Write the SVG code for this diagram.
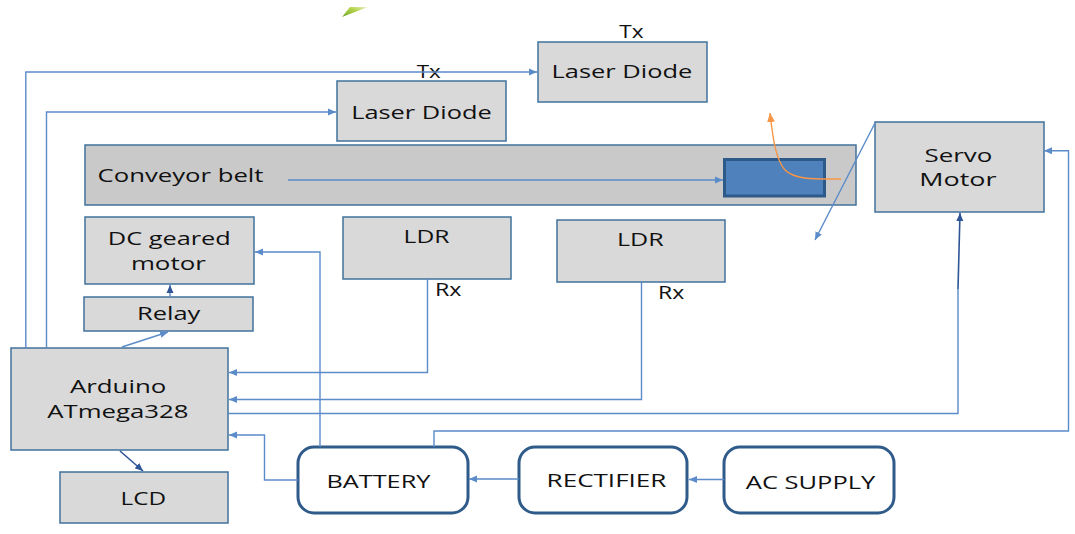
<svg xmlns="http://www.w3.org/2000/svg" width="1075" height="534" viewBox="0 0 1075 534">
<defs>
<style>
.box{fill:#d9d9d9;stroke:#41719c;stroke-width:1.5}
.rbox{fill:#ffffff;stroke:#2f5b8a;stroke-width:3}
.t{font-family:"Open Sans","Noto Sans","Liberation Sans",sans-serif;font-size:19px;fill:#111111}
.s{font-family:"Open Sans","Noto Sans","Liberation Sans",sans-serif;font-size:18px;fill:#111111}
.c{fill:none;stroke:#5b8bc9;stroke-width:1.4}
.cd{fill:none;stroke:#2f5597;stroke-width:1.6}
.co{fill:none;stroke:#f79646;stroke-width:1.4}
</style>
<marker id="ah" viewBox="0 0 8 8" refX="8" refY="4" markerWidth="8" markerHeight="8" markerUnits="userSpaceOnUse" orient="auto"><path d="M0,0.5 L8,4 L0,7.5 z" fill="#5b8bc9"/></marker>
<marker id="ahd" viewBox="0 0 8 8" refX="8" refY="4" markerWidth="8" markerHeight="8" markerUnits="userSpaceOnUse" orient="auto"><path d="M0,0.5 L8,4 L0,7.5 z" fill="#2f5597"/></marker>
<marker id="aho" viewBox="0 0 8 8" refX="8" refY="4" markerWidth="9" markerHeight="9" markerUnits="userSpaceOnUse" orient="auto"><path d="M0,0.5 L8,4 L0,7.5 z" fill="#f79646"/></marker>
<linearGradient id="gr" x1="0" y1="1" x2="1" y2="0"><stop offset="0" stop-color="#6fa82a"/><stop offset="0.6" stop-color="#b5d34a"/><stop offset="1" stop-color="#eef5d8"/></linearGradient>
</defs>
<rect width="1075" height="534" fill="#ffffff"/>
<polygon points="350,7 368,7 342,17" fill="url(#gr)"/>

<g id="conveyor"><rect class="box" x="85" y="145" width="771" height="60" style="fill:#c9c9c9"/><text class="t" x="97.5" y="181.7" textLength="166" lengthAdjust="spacingAndGlyphs">Conveyor belt</text>
<rect x="724.5" y="159.5" width="100" height="36.5" fill="#4f81bd" stroke="#2e5a8a" stroke-width="3"/></g>
<g id="laser2"><rect class="box" x="538" y="42" width="169" height="60"/><text class="t" x="551.5" y="78.3" textLength="140.8" lengthAdjust="spacingAndGlyphs">Laser Diode</text><text class="s" x="619.3" y="38.3" textLength="24.3" lengthAdjust="spacingAndGlyphs">Tx</text></g>
<g id="laser1"><rect class="box" x="337" y="81" width="169" height="60"/><text class="t" x="351.2" y="119" textLength="140.5" lengthAdjust="spacingAndGlyphs">Laser Diode</text><text class="s" x="416.7" y="78" textLength="24.1" lengthAdjust="spacingAndGlyphs">Tx</text></g>
<g id="servo"><rect class="box" x="875" y="122" width="169" height="90"/><text class="t" x="924.5" y="161.7" textLength="67.8" lengthAdjust="spacingAndGlyphs">Servo</text><text class="t" x="919.3" y="186" textLength="77.2" lengthAdjust="spacingAndGlyphs">Motor</text></g>
<g id="dcmotor"><rect class="box" x="85" y="217" width="169" height="67"/><text class="t" x="107.8" y="245" textLength="123" lengthAdjust="spacingAndGlyphs">DC geared</text><text class="t" x="130.9" y="270" textLength="75" lengthAdjust="spacingAndGlyphs">motor</text></g>
<g id="relay"><rect class="box" x="84" y="297" width="169" height="34"/><text class="t" x="137" y="320" textLength="63.4" lengthAdjust="spacingAndGlyphs">Relay</text></g>
<g id="arduino"><rect class="box" x="11" y="348" width="217" height="102"/><text class="t" x="69.9" y="393.3" textLength="96.4" lengthAdjust="spacingAndGlyphs">Arduino</text><text class="t" x="47.2" y="417.7" textLength="141.2" lengthAdjust="spacingAndGlyphs">ATmega328</text></g>
<g id="lcd"><rect class="box" x="60" y="472" width="168" height="51"/><text class="t" x="120.5" y="505" textLength="45.5" lengthAdjust="spacingAndGlyphs">LCD</text></g>
<g id="ldr1"><rect class="box" x="343" y="217" width="168" height="62"/><text class="t" x="403.6" y="243.3" textLength="45.8" lengthAdjust="spacingAndGlyphs">LDR</text><text class="s" x="435" y="296" textLength="26.5" lengthAdjust="spacingAndGlyphs">Rx</text></g>
<g id="ldr2"><rect class="box" x="557" y="220" width="168" height="62"/><text class="t" x="617" y="245.7" textLength="46.7" lengthAdjust="spacingAndGlyphs">LDR</text><text class="s" x="658" y="298.5" textLength="26.3" lengthAdjust="spacingAndGlyphs">Rx</text></g>
<g id="battery"><rect class="rbox" x="298" y="447" width="170" height="66" rx="16"/><text class="t" x="326.4" y="488.3" textLength="104" lengthAdjust="spacingAndGlyphs">BATTERY</text></g>
<g id="rectifier"><rect class="rbox" x="519" y="447" width="168" height="66" rx="16"/><text class="t" x="546.6" y="486.7" textLength="119.8" lengthAdjust="spacingAndGlyphs">RECTIFIER</text></g>
<g id="acsupply"><rect class="rbox" x="724" y="447" width="170" height="66" rx="16"/><text class="t" x="745.8" y="489.3" textLength="129.5" lengthAdjust="spacingAndGlyphs">AC SUPPLY</text></g>

<g id="connectors">
<path class="c" d="M25.8,348 V72 H537" marker-end="url(#ah)"/>
<path class="c" d="M46.5,348 V112 H336" marker-end="url(#ah)"/>
<path class="c" d="M288,180 H723" marker-end="url(#ah)"/>
<path class="co" d="M841,179 C815,179 795,180 785,170 C776,160 773,140 770,113" marker-end="url(#aho)"/>
<path class="c" d="M875,123 L815,240" marker-end="url(#ah)"/>
<path class="c" d="M320,447 V252 H255" marker-end="url(#ah)"/>
<path class="c" d="M170,297 V285" marker-end="url(#ahd)"/>
<path class="c" d="M122,347 L168,332" marker-end="url(#ah)"/>
<path class="c" d="M427.5,279 V372.5 H229" marker-end="url(#ah)"/>
<path class="c" d="M641.5,282 V399.5 H229" marker-end="url(#ah)"/>
<path class="c" d="M228,413.5 H958 V289"/>
<path class="cd" d="M958,289 L960,213" marker-end="url(#ahd)"/>
<path class="c" d="M298,480 H264.5 V435 H229" marker-end="url(#ah)"/>
<path class="c" d="M434,447 V431 H1068.5 V150.7 H1044" marker-end="url(#ah)"/>
<path class="cd" d="M120,451 L143,471" marker-end="url(#ahd)"/>
<path class="c" d="M519,479 H469" marker-end="url(#ah)"/>
<path class="c" d="M724,479.5 H689" marker-end="url(#ah)"/>
</g>
</svg>
